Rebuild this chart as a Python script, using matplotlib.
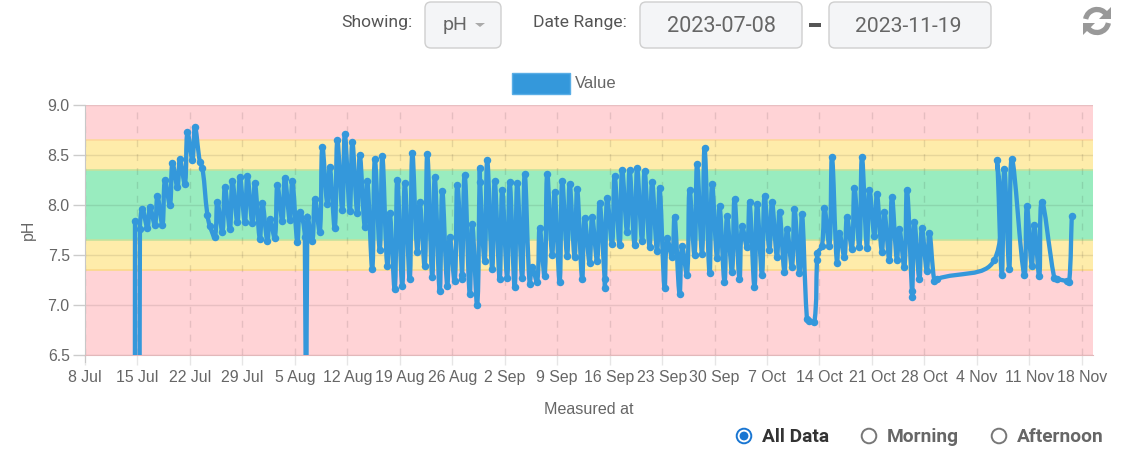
#!/usr/bin/env python3
import matplotlib
matplotlib.use("Agg")
import matplotlib.pyplot as plt
import numpy as np
from matplotlib.patches import FancyBboxPatch, Rectangle, PathPatch, Arc, Polygon, Circle
from matplotlib.path import Path

nan = float("nan")

# calendar day of the first reading, counted from 8 Jul
first_day = 6

# morning readings, one per day
ph_morning = [
    nan, 7.76, 7.77, 7.80, 7.80, 8.00, 8.18, 8.21, 8.45, 8.43, 7.90, 7.68, 7.73, 7.76, 7.83, 7.83,
    7.82, 7.66, 7.64, 7.67, 7.84, 7.85, 7.63, 7.68, 7.64, 7.73, 8.01, 7.77, 7.95, 7.94, 7.92, 7.78,
    7.36, 7.55, 7.39, 7.16, 7.19, 7.26, 7.53, 7.39, 7.28, 7.14, 7.19, 7.24, 7.26, 7.11, 7.00, 7.44,
    7.36, 7.26, 7.27, 7.18, 7.27, 7.21, 7.23, 7.29, 7.50, 7.23, 7.49, 7.48, 7.26, 7.42, 7.44, 7.26,
    7.61, 7.60, 7.73, 7.60, 7.64, 7.58, 7.54, 7.17, 7.48, 7.11, 7.30, 7.50, 7.51, 7.32, 7.47, 7.23,
    7.33, 7.26, 7.58, 7.18, 7.30, 7.55, 7.48, 7.33, 7.38, 7.32, 6.86, 6.83, 7.59, 7.59, 7.42, 7.48,
    7.56, 7.58, 7.57, 7.69, 7.53, 7.45, 7.45, 7.38, 7.14, 7.26, 7.34, 7.24, nan, nan, nan, nan,
    nan, nan, nan, 7.45, 7.30, 7.36, nan, 7.30, 7.39, 7.29, nan, 7.27, nan, 7.23,
]

# afternoon readings, one per day
ph_afternoon = [
    7.84, 7.96, 7.98, 8.09, 8.25, 8.42, 8.46, 8.73, 8.78, 8.37, 7.79, 8.03, 8.18, 8.24, 8.28, 8.29,
    8.22, 8.02, 7.86, 8.20, 8.27, 8.24, 7.93, 7.88, 8.06, 8.58, 8.38, 8.65, 8.71, 8.63, 8.50, 8.24,
    8.46, 8.49, 7.92, 8.25, 8.22, 8.52, 8.03, 8.51, 8.28, 8.14, 7.68, 8.20, 8.30, 7.81, 8.37, 8.45,
    8.24, 8.15, 8.23, 8.22, 8.31, 7.38, 7.77, 8.31, 8.13, 8.24, 8.21, 8.16, 7.87, 7.88, 8.02, 8.07,
    8.29, 8.35, 8.35, 8.37, 8.34, 8.23, 8.17, 7.67, 7.88, 7.59, 8.15, 8.41, 8.57, 8.21, 7.99, 7.89,
    8.06, 7.79, 8.03, 8.01, 8.09, 8.03, 7.93, 7.76, 7.96, 7.91, 6.84, 7.45, 7.97, 8.48, 7.72, 7.88,
    8.17, 8.48, 8.15, 8.11, 7.93, 8.08, 7.76, 8.15, 7.83, 7.77, 7.72, 7.26, nan, nan, nan, nan,
    nan, nan, nan, 8.45, 8.36, 8.46, nan, 7.99, 7.80, 8.03, nan, 7.26, nan, 7.89,
]

# readings taken off schedule, including the dropouts far below the axis
extra_days = [6.72, 7.29, 29.50, 50.30, 52.72, 69.38, 97.72, 110.38, 130.97]
extra_ph = [0.0, 0.0, 0.0, 7.30, 8.23, 7.17, 7.52, 7.08, 7.24]

tick_days = [0, 7, 14, 21, 28, 35, 42, 49, 56, 63, 70, 77, 84, 91, 98, 105, 112, 119, 126, 133]
tick_labels = ["8 Jul", "15 Jul", "22 Jul", "29 Jul", "5 Aug", "12 Aug", "19 Aug", "26 Aug", "2 Sep", "9 Sep",
               "16 Sep", "23 Sep", "30 Sep", "7 Oct", "14 Oct", "21 Oct", "28 Oct", "4 Nov", "11 Nov", "18 Nov"]
y_ticks = [6.5, 7.0, 7.5, 8.0, 8.5, 9.0]

# colour bands
bands = [(6.5, 7.35, "#ffd3d6"), (7.35, 7.65, "#feecaa"), (7.65, 8.35, "#99ecbf"),
         (8.35, 8.65, "#feecaa"), (8.65, 9.0, "#ffd3d6")]

W, H = 1135, 454
BLUE = "#3498db"
GREY = "#666666"

plt.rcParams["font.family"] = ["Liberation Sans", "DejaVu Sans"]


def spline_path(ax, x, y, tension=0.4):
    # same control points as a tension spline in screen space
    pts = ax.transData.transform(np.column_stack([x, y]))
    verts = [pts[0]]
    codes = [Path.MOVETO]
    n = len(pts)
    ctrl_in = np.zeros_like(pts)
    ctrl_out = np.zeros_like(pts)
    for i in range(n):
        prev = pts[max(i - 1, 0)]
        cur = pts[i]
        nxt = pts[min(i + 1, n - 1)]
        d01 = np.hypot(*(cur - prev))
        d12 = np.hypot(*(nxt - cur))
        total = d01 + d12
        s01 = d01 / total if total else 0
        s12 = d12 / total if total else 0
        ctrl_in[i] = cur - tension * s01 * (nxt - prev)
        ctrl_out[i] = cur + tension * s12 * (nxt - prev)
    for i in range(1, n):
        verts += [ctrl_out[i - 1], ctrl_in[i], pts[i]]
        codes += [Path.CURVE4] * 3
    return Path(ax.transData.inverted().transform(np.array(verts)), codes)


fig = plt.figure(figsize=(W / 100, H / 100), dpi=100)
ax = fig.add_axes([85 / W, 1 - 355 / H, (1093 - 85) / W, 250 / H])
ax.set_xlim(0, 134.5)
ax.set_ylim(6.5, 9.0)

for low, high, colour in bands:
    ax.axhspan(low, high, facecolor=colour, edgecolor="none", zorder=0)
for level, colour in [(7.35, "#fbd98a"), (7.65, "#c5e29c"), (8.35, "#c5e29c"), (8.65, "#fdd79a")]:
    ax.axhline(level, color=colour, lw=1.2, zorder=1)

ax.set_yticks(y_ticks)
ax.set_yticklabels(["%.1f" % v for v in y_ticks])
ax.set_xticks(tick_days)
ax.set_xticklabels(tick_labels)
ax.tick_params(axis="y", labelsize=11.4, labelcolor=GREY, color="#cccccc", length=9, width=1, pad=2)
ax.tick_params(axis="x", labelsize=11.4, labelcolor=GREY, color="#e6e6e6", length=7, width=1, pad=4)
ax.grid(axis="y", color="black", alpha=0.09, lw=1, zorder=1)
ax.grid(axis="x", color="black", alpha=0.1, lw=1, ls=(0, (5, 5)), zorder=1)
for side in ["top", "right"]:
    ax.spines[side].set_visible(False)
ax.spines["left"].set_color("#c8c8c8")
ax.spines["left"].set_bounds(6.43, 9.0)
ax.spines["bottom"].set_color("#e2b8ba")

# merge the scheduled and extra readings in time order
days = np.arange(first_day, first_day + len(ph_morning))
x = np.concatenate([days + 0.33, days + 0.67, extra_days])
y = np.concatenate([ph_morning, ph_afternoon, extra_ph])
keep = ~np.isnan(y)
x, y = x[keep], y[keep]
order = np.argsort(x)
x, y = x[order], y[order]

fig.canvas.draw()
ax.add_patch(PathPatch(spline_path(ax, x, y), facecolor="none", edgecolor=BLUE, lw=3.1,
                       joinstyle="round", zorder=3))
ax.plot(x, y, "o", color=BLUE, ms=5.4, mew=0, zorder=4)
ax.spines["left"].set_bounds(6.43, 9.0)

# everything outside the plot, laid out in pixels
ui = fig.add_axes([0, 0, 1, 1], zorder=-1)
ui.set_xlim(0, W)
ui.set_ylim(H, 0)
ui.axis("off")


def pill(x0, y0, x1, y1):
    ui.add_patch(FancyBboxPatch((x0 + 6, y0 + 6), x1 - x0 - 12, y1 - y0 - 12, boxstyle="round,pad=6",
                                facecolor="#f4f5f7", edgecolor="#cfcfcf", lw=1))


pill(425, 2, 501, 48)
pill(640, 2, 802, 48)
pill(829, 2, 991, 48)

ui.text(377, 23, "Showing:", ha="center", va="center", fontsize=12.6, color="#555555", family="Roboto")
ui.text(580, 22, "Date Range:", ha="center", va="center", fontsize=12.6, color="#555555", family="Roboto")
ui.text(455, 25, "pH", ha="center", va="center", fontsize=14, color="#666666", family="Roboto")
ui.add_patch(Polygon([[475, 23], [485, 23], [480, 27]], closed=True, facecolor="#aaaaaa", edgecolor="none"))
ui.text(721, 26, "2023-07-08", ha="center", va="center", fontsize=15.6, color="#666666", family="Roboto")
ui.text(908, 26, "2023-11-19", ha="center", va="center", fontsize=15.2, color="#666666", family="Roboto")
ui.add_patch(Rectangle((809, 23), 12, 4, facecolor="#555555", edgecolor="none"))

# refresh icon
ui.add_patch(Arc((1097, 21), 23, 23, theta1=190, theta2=325, color="#999999", lw=3.8))
ui.add_patch(Arc((1097, 21), 23, 23, theta1=10, theta2=145, color="#999999", lw=3.8))
ui.add_patch(Polygon([[1111, 7], [1111, 19], [1099, 19]], closed=True, facecolor="#999999", edgecolor="none"))
ui.add_patch(Polygon([[1083, 35], [1083, 23], [1095, 23]], closed=True, facecolor="#999999", edgecolor="none"))

# legend
ui.add_patch(Rectangle((512, 73), 58, 21, facecolor=BLUE, edgecolor="#5aaee6", lw=1))
ui.text(575, 83, "Value", ha="left", va="center", fontsize=12, color=GREY)

ui.text(28, 230, "pH", rotation=90, ha="center", va="center", fontsize=11.4, color=GREY)
ui.text(589, 410, "Measured at", ha="center", va="center", fontsize=11.6, color=GREY)

# radio buttons
for cx, label, tx, colour in [(744, "All Data", 762, "#333333"), (869, "Morning", 887, "#666666"),
                              (999, "Afternoon", 1017, "#666666")]:
    edge = "#1976d2" if cx == 744 else "#777777"
    ui.add_patch(Circle((cx, 436), 7.3, facecolor="white", edgecolor=edge, lw=1.4))
    if cx == 744:
        ui.add_patch(Circle((cx, 436), 4.4, facecolor="#1976d2", edgecolor="none"))
    ui.text(tx, 437, label, ha="left", va="center", fontsize=13.8, fontweight="bold", color=colour, family="Roboto")

fig.savefig("out.png", dpi=100)
